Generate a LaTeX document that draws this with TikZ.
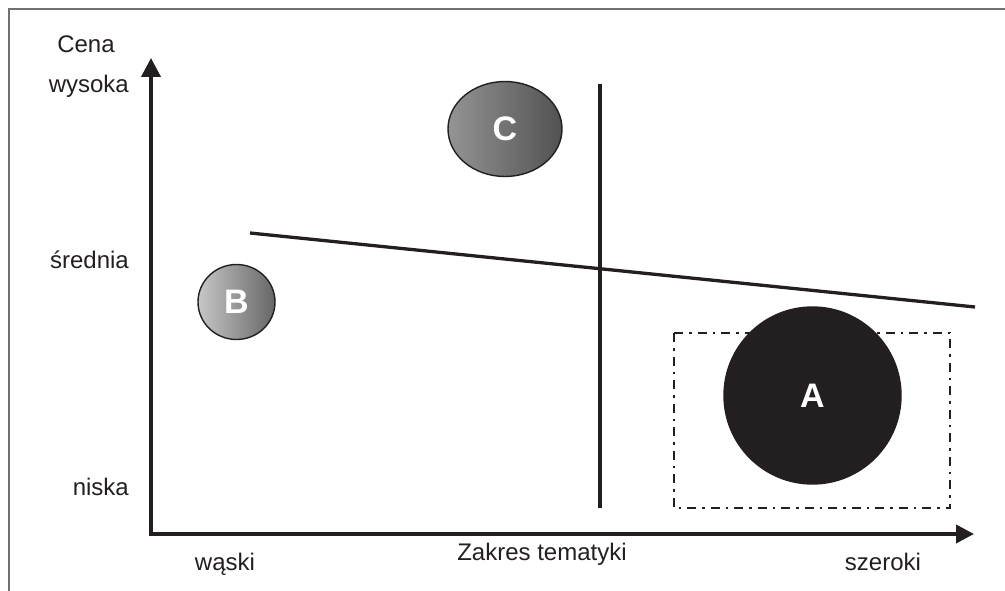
\documentclass[tikz,border=0pt]{standalone}
\usepackage{fontspec}
\setmainfont{Liberation Sans}
\usetikzlibrary{arrows.meta,shapes.geometric}
\definecolor{ink}{HTML}{231F20}
\definecolor{framegray}{HTML}{707070}
\tikzset{
  lbl/.style={font=\fontsize{24}{28}\selectfont, text=ink, inner sep=0pt, anchor=base},
  lblr/.style={lbl, anchor=base east},
  axis/.style={line width=3.8pt, draw=ink, {Triangle[length=19pt,width=19pt]}-{Triangle[length=18pt,width=18pt]}},
  divider/.style={line width=3.3pt, draw=ink},
  bubble/.style={ellipse, draw=ink, line width=1.4pt, inner sep=0pt, text=white,
     font=\fontsize{34}{38}\selectfont\bfseries},
  zone/.style={draw=ink, line width=2.4pt, dash pattern=on 9pt off 6pt on 2.5pt off 6pt}
}
\begin{document}
\begin{tikzpicture}[x=1pt,y=-1pt]
\useasboundingbox (0,0) rectangle (1005,591);
% frame
\draw[framegray, line width=2pt] (9,591) -- (9,9.5) -- (1005,9.5);
% axes
\coordinate (ytop) at (151,58);
\coordinate (origin) at (151,534);
\coordinate (xend) at (974,534);
\draw[axis] (ytop) -- (origin) -- (xend);
% dividers
\coordinate (vtop) at (600,84);
\coordinate (vbot) at (600,508);
\draw[divider] (vtop) -- (vbot);
\coordinate (sl) at (250,233);
\coordinate (sr) at (975,307);
\draw[divider] (sl) -- (sr);
% zone
\coordinate (z1) at (674,333);
\coordinate (z2) at (950,508);
\draw[zone] (z1) rectangle (z2);
% bubbles
\node[bubble, fill=ink, minimum width=177pt, minimum height=177pt] (A) at (812.5,395.5) {A};
\node[bubble, left color=black!22, right color=black!60, minimum width=77pt, minimum height=75pt] (B) at (236.5,302) {B};
\node[bubble, left color=black!42, right color=black!68, minimum width=114pt, minimum height=95pt] (C) at (505,129) {C};
% labels
\node[lbl] (cena) at (86,53) {Cena};
\node[lblr] (wys) at (129,93) {wysoka};
\node[lblr] (sred) at (129,268) {średnia};
\node[lblr] (nis) at (129,495) {niska};
\node[lbl] (wask) at (225,570) {wąski};
\node[lbl] (zak) at (542,560) {Zakres tematyki};
\node[lbl] (szer) at (883,570) {szeroki};
\end{tikzpicture}
\end{document}
